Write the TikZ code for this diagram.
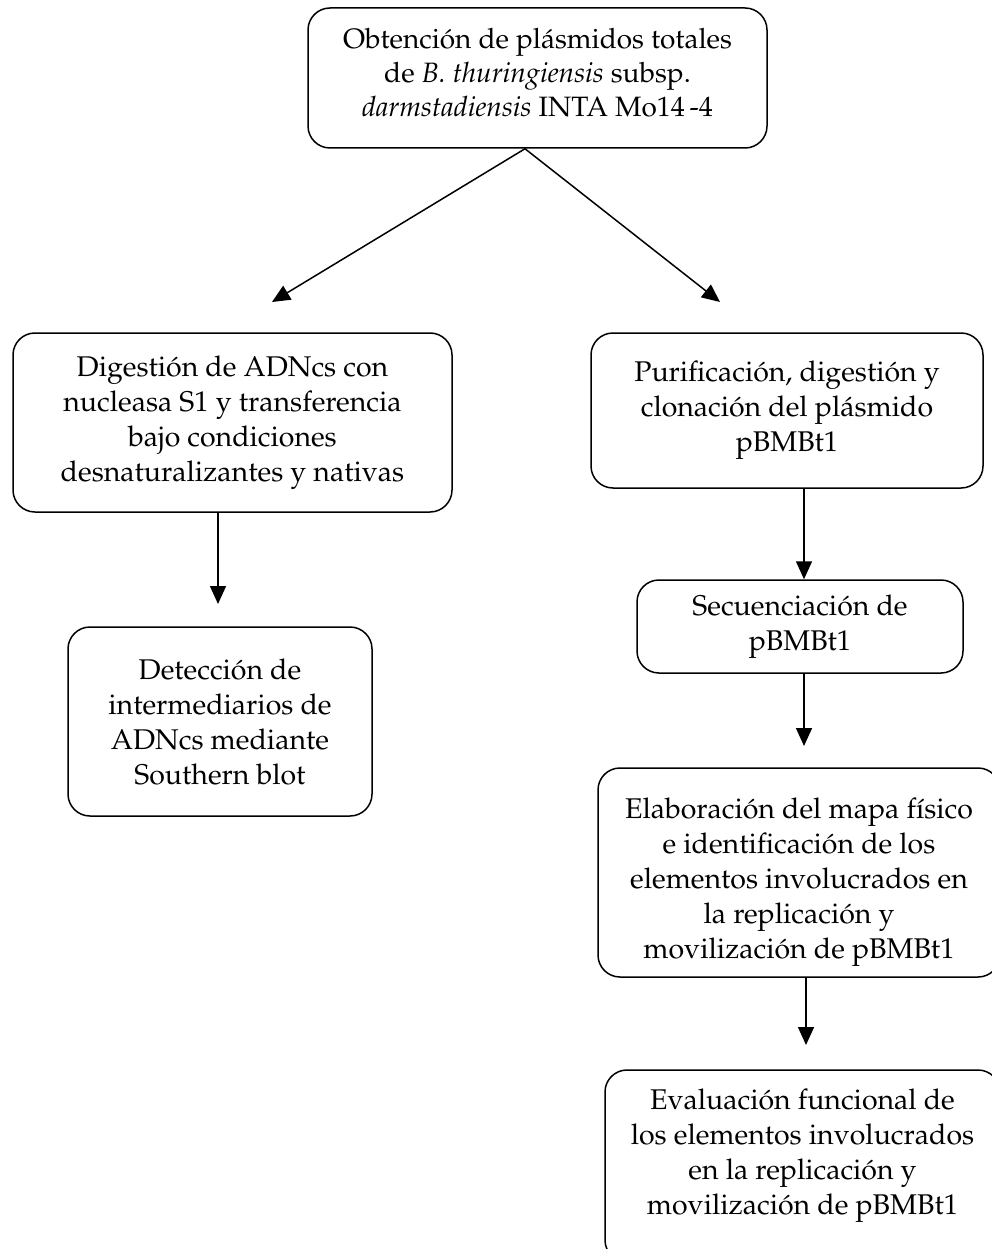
\documentclass[tikz,border=0pt]{standalone}
\usepackage[T1]{fontenc}
\usepackage{mathpazo}
\usetikzlibrary{arrows.meta}
\tikzset{
  stagebox/.style={draw, line width=1.5pt, rounded corners=22pt, align=center,
    inner sep=0pt, font=\fontsize{28.5}{35}\selectfont},
  flow/.style={line width=1.5pt, -{Triangle[length=18pt,width=16pt]}}
}
\begin{document}
\begin{tikzpicture}[x=1pt,y=-1pt]
\useasboundingbox (0,0) rectangle (992,1249);
\clip (0,0) rectangle (992,1249);
\fill[white] (0,0) rectangle (992,1249);

% boxes
\node[stagebox, minimum width=459pt, minimum height=140pt, font=\fontsize{28}{34}\selectfont] (top) at (537.5,78)
  {Obtenci\'on de pl\'asmidos totales\\ de \textit{B. thuringiensis} subsp.\\ \textit{darmstadiensis} INTA Mo14\,-4\rule[-12pt]{0pt}{12pt}};
\node[stagebox, minimum width=439pt, minimum height=179pt] (l1) at (232.5,422.5)
  {Digesti\'on de ADNcs con\\ nucleasa S1 y transferencia\\ bajo condiciones\\ desnaturalizantes y nativas};
\node[stagebox, minimum width=304pt, minimum height=189pt] (l2) at (220,721.5)
  {Detecci\'on de\\ intermediarios de\\ ADNcs mediante\\ Southern blot};
\node[stagebox, minimum width=392pt, minimum height=155pt] (r1) at (787,410.5)
  {Purificaci\'on, digesti\'on y\\ clonaci\'on del pl\'asmido\\ pBMBt1};
\node[stagebox, minimum width=326pt, minimum height=93pt] (r2) at (800,626.5)
  {Secuenciaci\'on de\\ pBMBt1};
\node[stagebox, minimum width=402pt, minimum height=209pt] (r3) at (799,872.5)
  {\rule{0pt}{40pt}Elaboraci\'on del mapa f\'{\i}sico\\ e identificaci\'on de los\\ elementos involucrados en\\ la replicaci\'on y\\ movilizaci\'on de pBMBt1};
\node[stagebox, minimum width=395pt, minimum height=192pt] (r4) at (802.5,1166)
  {Evaluaci\'on funcional de\\ los elementos involucrados\\ en la replicaci\'on y\\ movilizaci\'on de pBMBt1\rule[-28pt]{0pt}{28pt}};

% arrow end points
\coordinate (split) at ([xshift=-12.5pt]top.south);
\coordinate (endl) at (272,302);
\coordinate (endr) at (720,302);
\coordinate (endl2) at (218,604);
\coordinate (endr3) at (804,746);
\coordinate (endr4) at (806,1045);

% connectors
\draw[flow] (split) -- (endl);
\draw[flow] (split) -- (endr);
\draw[flow] (l1.south -| endl2) -- (endl2);
\draw[flow] (r1.south -| endr3) -- (r2.north -| endr3);
\draw[flow] (r2.south -| endr3) -- (endr3);
\draw[flow] (r3.south -| endr4) -- (endr4);
\end{tikzpicture}
\end{document}
